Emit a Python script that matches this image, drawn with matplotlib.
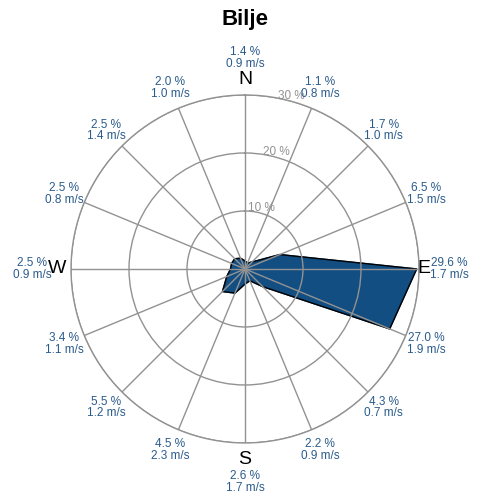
import numpy as np
import matplotlib
matplotlib.use("Agg")
import matplotlib.pyplot as plt

plt.rcParams['font.family'] = ['Liberation Sans', 'DejaVu Sans']

# wind rose data, 16 directions clockwise from N
directions = ['N', 'NNE', 'NE', 'ENE', 'E', 'ESE', 'SE', 'SSE',
              'S', 'SSW', 'SW', 'WSW', 'W', 'WNW', 'NW', 'NNW']
frequency = [1.4, 1.1, 1.7, 6.5, 29.6, 27.0, 4.3, 2.2,
             2.6, 4.5, 5.5, 3.4, 2.5, 2.5, 2.5, 2.0]
speed = [0.9, 0.8, 1.0, 1.5, 1.7, 1.9, 0.7, 0.9,
         1.7, 2.3, 1.2, 1.1, 0.9, 0.8, 1.4, 1.0]
ring_values = [10, 20, 30]
cardinals = ['N', 'E', 'S', 'W']

BLUE = '#124e82'
TEXT_BLUE = '#2a5b8c'
GRAY = '#929292'

fig = plt.figure(figsize=(4.84, 4.93), dpi=100)
ax = fig.add_axes([0.1467, 0.1014, 0.719, 0.706], projection='polar')
ax.set_theta_zero_location('N')
ax.set_theta_direction(-1)

theta = np.deg2rad(np.arange(len(directions)) * 22.5)
th_closed = np.append(theta, theta[0])
fr_closed = np.append(frequency, frequency[0])
ax.fill(th_closed, fr_closed, color=BLUE, zorder=1)
ax.plot(th_closed, fr_closed, color='black', lw=1, zorder=1.5)

ax.set_ylim(0, 30)
ax.set_yticks(ring_values)
ax.set_yticklabels([])
ax.set_xticks(theta)
ax.set_xticklabels([])
ax.set_axisbelow(False)
ax.grid(True, color=GRAY, lw=1)
ax.spines['polar'].set_color(GRAY)
ax.spines['polar'].set_linewidth(1)

# ring labels
for rv in ring_values:
    ax.text(np.deg2rad(15), rv + 0.8, f'{rv} %', color=GRAY, fontsize=8.5,
            ha='center', va='center')

# direction letters
letter_r = {'N': 32.6, 'E': 30.9, 'S': 32.9, 'W': 32.4}
for d, t in zip(directions, theta):
    if d in cardinals:
        ax.text(t, letter_r[d], d, fontsize=14, ha='center', va='center',
                color='black')

# value labels
label_r = {'N': 36.4, 'E': 35.2, 'S': 36.7, 'W': 36.7}
for d, t, f, s in zip(directions, theta, frequency, speed):
    r = label_r.get(d, 33.8)
    ax.text(t, r, f'{f:.1f} %\n{s:.1f} m/s', fontsize=8.5, color=TEXT_BLUE,
            ha='center', va='center', linespacing=0.95)

fig.text(0.506, 1 - 20 / 493, 'Bilje', fontsize=16, fontweight='bold',
         ha='center', va='center')

fig.savefig('out.png', dpi=100)
